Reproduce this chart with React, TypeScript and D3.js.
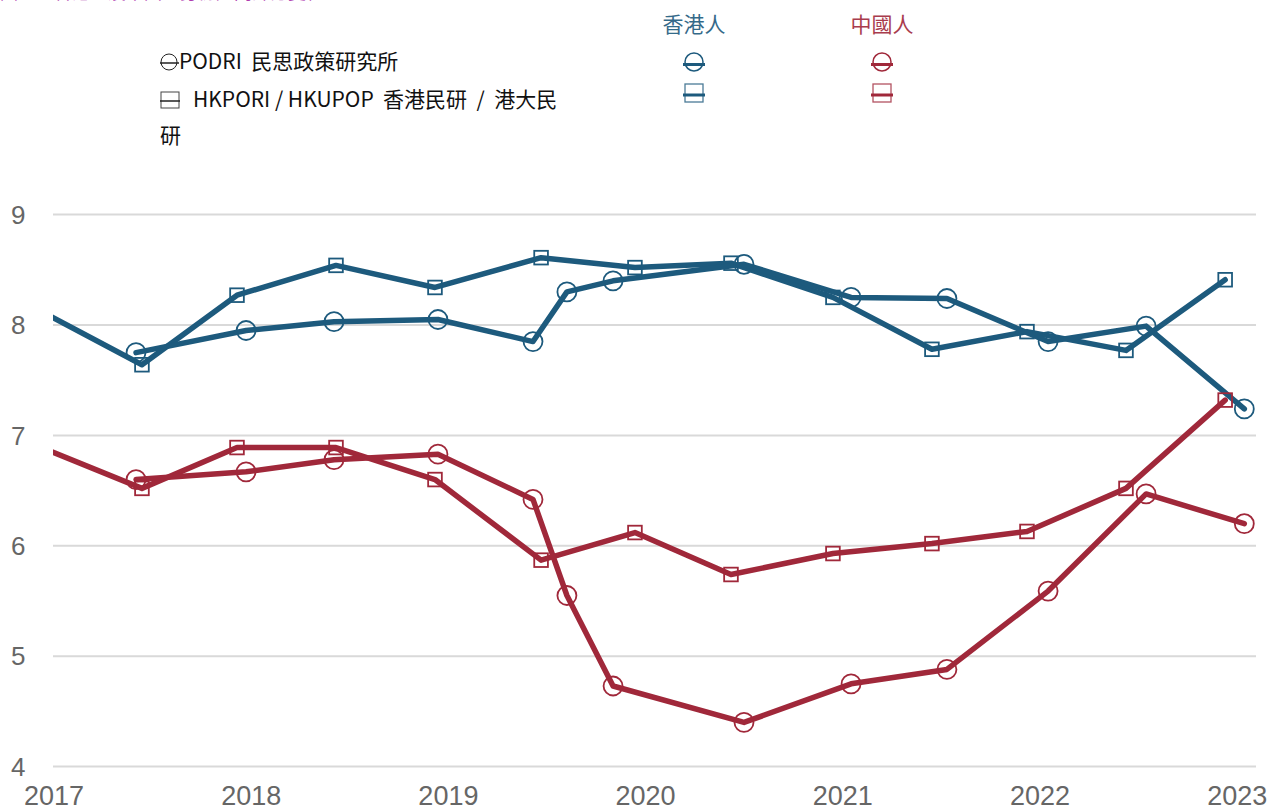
import React from "react";
import * as d3 from "d3";

// ---- data (fractional year, rating 0-10) ----
const podriDates = [2017.416, 2017.974, 2018.42, 2018.947, 2019.429, 2019.601, 2019.835, 2020.499, 2021.042, 2021.528, 2022.041, 2022.538, 2023.036];
const podriHK = [7.75, 7.95, 8.03, 8.05, 7.85, 8.3, 8.4, 8.55, 8.25, 8.24, 7.85, 7.99, 7.24];
const podriCN = [6.6, 6.67, 6.78, 6.83, 6.42, 5.55, 4.73, 4.4, 4.75, 4.88, 5.59, 6.47, 6.2];

const hkpDates = [2016.95, 2017.446, 2017.928, 2018.43, 2018.932, 2019.47, 2019.946, 2020.433, 2020.95, 2021.452, 2021.934, 2022.436, 2022.939];
const hkpHK = [8.11, 7.64, 8.27, 8.54, 8.34, 8.61, 8.52, 8.56, 8.25, 7.78, 7.94, 7.77, 8.41];
const hkpCN = [6.88, 6.52, 6.89, 6.89, 6.6, 5.87, 6.12, 5.74, 5.93, 6.02, 6.13, 6.52, 7.32];

const yTicks = [4, 5, 6, 7, 8, 9];
const xTicks = [2017, 2018, 2019, 2020, 2021, 2022, 2023];
const groupLabels = ["香港人", "中國人"];
const NB = "\u00A0";

const BLUE = "#1d5a7d";
const RED = "#a0283a";

export default function App() {
  const W = 1269, H = 810;
  const left = 53, right = 1256;
  const x = d3.scaleLinear().domain([2017, 2023]).range([54, 54 + 6 * 197.2]);
  const y = d3.scaleLinear().domain([4, 9]).range([766.6, 214.6]);

  type Pt = [number, number];
  const mk = (ds: number[], vs: number[]): Pt[] => ds.map((d, i) => [d, vs[i]]);
  const line = d3.line<Pt>().x(d => x(d[0])).y(d => y(d[1]));

  const series = [
    { pts: mk(hkpDates, hkpHK), color: BLUE, shape: "square" },
    { pts: mk(podriDates, podriHK), color: BLUE, shape: "circle" },
    { pts: mk(hkpDates, hkpCN), color: RED, shape: "square" },
    { pts: mk(podriDates, podriCN), color: RED, shape: "circle" },
  ];

  const axisFont = "'Liberation Sans Narrow', 'Arial Narrow', 'Liberation Sans', sans-serif";
  const cjk = "'Noto Sans CJK TC', 'Noto Sans', sans-serif";

  const marker = (shape: string, cx: number, cy: number, color: string, key: any, r = 9.5, sw = 1.8) =>
    shape === "circle" ? (
      <circle key={key} cx={cx} cy={cy} r={r} fill="none" stroke={color} strokeWidth={sw} />
    ) : (
      <rect key={key} x={cx - r * 0.72} y={cy - r * 0.72} width={r * 1.44} height={r * 1.44} fill="none" stroke={color} strokeWidth={sw} />
    );

  return (
    <svg width={W} height={H} style={{ position: "absolute", left: 0, top: 0, display: "block", background: "#fff" }}>
      <defs>
        <clipPath id="plotclip">
          <rect x={left} y={150} width={right - left + 12} height={640} />
        </clipPath>
      </defs>
      {/* cut-off title (only its lower edge is visible) */}
      <text x={0} y={-1} fontFamily={cjk} fontSize={18} fill="#b03cb0">圖三：香港人及中國人身份認同評分變化</text>

      {/* gridlines */}
      {yTicks.map(t => (
        <line key={t} x1={left} x2={right} y1={y(t)} y2={y(t)} stroke="#d9d9d9" strokeWidth={2} />
      ))}
      {yTicks.map(t => (
        <text key={"yl" + t} x={11} y={y(t)} dy="0.35em" fontFamily={axisFont} fontSize={26} fill="#666">{t}</text>
      ))}
      {xTicks.map(t => (
        <text key={"xl" + t} x={x(t)} y={805} textAnchor="middle" fontFamily={axisFont} fontSize={27} fill="#666">{t}</text>
      ))}

      {/* lines */}
      <g clipPath="url(#plotclip)">
        {series.map((s, i) => (
          <g key={i}>
            <path d={line(s.pts) || ""} fill="none" stroke={s.color} strokeWidth={5.5} strokeLinejoin="round" strokeLinecap="round" />
            {s.pts.map((p, j) => marker(s.shape, x(p[0]), y(p[1]), s.color, j))}
          </g>
        ))}
      </g>

      {/* left legend */}
      <g fontFamily={cjk} fontSize={21} fill="#111">
        <circle cx={169} cy={62} r={8} fill="none" stroke="#222" strokeWidth={1} />
        <line x1={160} x2={179} y1={63} y2={63} stroke="#222" strokeWidth={1.5} />
        <text x={179} y={62} dy="0.35em">{"PODRI" + NB + NB + "民思政策研究所"}</text>
        <rect x={161} y={92} width={18} height={16} fill="none" stroke="#444" strokeWidth={1} />
        <line x1={160} x2={180} y1={101} y2={101} stroke="#222" strokeWidth={1.5} />
        <text x={193} y={100} dy="0.35em">{"HKPORI / HKUPOP" + NB + NB + "香港民研" + NB + NB + "/" + NB + NB + "港大民"}</text>
        <text x={160} y={136} dy="0.35em">研</text>
      </g>

      {/* right legend */}
      {groupLabels.map((g, i) => {
        const cx = i === 0 ? 694 : 882;
        const c = i === 0 ? BLUE : RED;
        return (
          <g key={g}>
            <text x={cx} y={25} dy="0.35em" textAnchor="middle" fontFamily={cjk} fontSize={21} fill={c} opacity={0.9}>{g}</text>
            {marker("circle", cx, 62, c, "c", 9, 1.5)}
            <line x1={cx - 11} x2={cx + 11} y1={64.5} y2={64.5} stroke={c} strokeWidth={3} />
            <rect x={cx - 9} y={84} width={18} height={18} fill="none" stroke={c} strokeWidth={1.3} opacity={0.8} />
            <line x1={cx - 11} x2={cx + 11} y1={95} y2={95} stroke={c} strokeWidth={3} />
          </g>
        );
      })}
    </svg>
  );
}
